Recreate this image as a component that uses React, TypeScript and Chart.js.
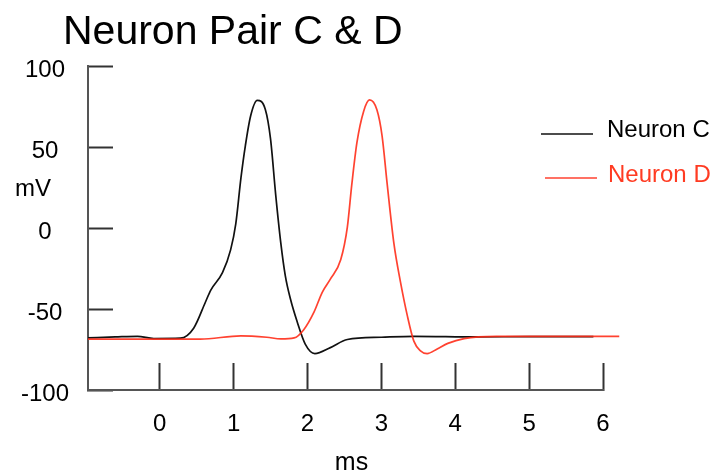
import React, { useEffect, useRef } from 'react';
import { Chart, registerables } from 'chart.js';

Chart.register(...registerables);

const TITLE = 'Neuron Pair C & D';
const X_TITLE = 'ms';
const Y_TITLE = 'mV';
const SERIES_NAMES = ['Neuron C', 'Neuron D'];
const SERIES_COLORS = ['#111111', 'rgba(255,45,25,0.9)'];
const LEGEND_TEXT_COLORS = ['#000000', '#ff3b22'];
const X_TICKS = [0, 1, 2, 3, 4, 5, 6];
const Y_TICKS = [-100, -50, 0, 50, 100];

// Neuron C (black)
const C_TIME = [-0.97, -0.6, -0.3, -0.08, 0.28, 0.46, 0.62, 0.69, 0.85, 0.96, 1.03, 1.1, 1.16, 1.23, 1.32, 1.43, 1.5, 1.57, 1.64, 1.7, 1.77, 1.86, 1.97, 2.1, 2.31, 2.54, 3.0, 3.44, 4.3, 5.0, 5.87];
const C_MV = [-67.8, -67.2, -66.8, -68.2, -68.0, -61.8, -45.6, -38.4, -27.5, -13.4, 2.7, 31.1, 51.1, 69.2, 79, 73.4, 55.3, 20.8, -9.4, -29.3, -43.8, -57.7, -71.6, -77.5, -73.8, -68.8, -67.4, -66.8, -67.2, -67, -67];

// Neuron D (red)
const D_TIME = [-0.97, 0.55, 1.1, 1.45, 1.64, 1.82, 1.95, 2.09, 2.2, 2.31, 2.45, 2.54, 2.6, 2.67, 2.76, 2.84, 2.94, 3.01, 3.08, 3.17, 3.26, 3.35, 3.44, 3.53, 3.62, 3.75, 3.9, 4.12, 4.56, 5.5, 6.22];
const D_MV = [-68.6, -68.6, -66.5, -67.4, -68.4, -67.8, -62.7, -51.7, -39.6, -31.5, -19.5, 0.7, 26.9, 53.0, 72.2, 79.3, 73.2, 57.1, 26.9, -9.4, -33.5, -53.7, -69.8, -75.8, -77.5, -74.8, -71.2, -68.2, -66.8, -66.8, -66.8];

const FONT = '"Liberation Sans", Arial, Helvetica, sans-serif';
const CANVAS_W = 705;
const CANVAS_H = 466;

const textPlugin = {
  id: 'customTexts',
  afterDraw(chart: any) {
    const ctx = chart.ctx as CanvasRenderingContext2D;
    const area = chart.chartArea;
    ctx.save();
    ctx.textAlign = 'left';
    ctx.textBaseline = 'alphabetic';
    ctx.fillStyle = '#000';
    ctx.font = `41px ${FONT}`;
    ctx.fillText(TITLE, 55, 36);

    ctx.font = `24px ${FONT}`;
    ctx.fillText(Y_TITLE, 7, 188);

    ctx.font = `25px ${FONT}`;
    ctx.textAlign = 'center';
    ctx.fillText(X_TITLE, (area.left + area.right) / 2 + 6, 462);

    // legend
    const rows = [
      { lineX: 533, lineY: 126, textX: 599, textY: 129 },
      { lineX: 537, lineY: 170, textX: 600, textY: 174 },
    ];
    chart.data.datasets.forEach((ds: any, i: number) => {
      const r = rows[i];
      ctx.beginPath();
      ctx.strokeStyle = ds.borderColor;
      ctx.lineWidth = 1.6;
      ctx.moveTo(r.lineX, r.lineY);
      ctx.lineTo(r.lineX + 52, r.lineY);
      ctx.stroke();
      ctx.font = `24px ${FONT}`;
      ctx.textAlign = 'left';
      ctx.fillStyle = LEGEND_TEXT_COLORS[i];
      ctx.fillText(ds.label, r.textX, r.textY);
    });
    ctx.restore();
  },
};

export default function App() {
  const ref = useRef<HTMLCanvasElement | null>(null);
  useEffect(() => {
    const prevOverflow = document.documentElement.style.overflow;
    document.documentElement.style.overflow = 'hidden';
    const canvas = ref.current;
    if (!canvas) return;
    const chart = new Chart(canvas, {
      type: 'line',
      data: {
        datasets: [
          {
            label: SERIES_NAMES[0],
            data: C_TIME.map((t, i) => ({ x: t, y: C_MV[i] })),
            borderColor: SERIES_COLORS[0],
            borderWidth: 1.7,
            pointRadius: 0,
            cubicInterpolationMode: 'monotone',
            fill: false,
            order: 2,
            clip: false as any,
          },
          {
            label: SERIES_NAMES[1],
            data: D_TIME.map((t, i) => ({ x: t, y: D_MV[i] })),
            borderColor: SERIES_COLORS[1],
            borderWidth: 1.7,
            pointRadius: 0,
            cubicInterpolationMode: 'monotone',
            fill: false,
            order: 1,
            clip: false as any,
          },
        ],
      },
      options: {
        animation: false,
        responsive: false,
        devicePixelRatio: 1,
        events: [],
        layout: { padding: { left: 0, right: CANVAS_W - 595, top: 51, bottom: 0 } },
        plugins: {
          legend: { display: false },
          title: { display: false },
          tooltip: { enabled: false },
        },
        scales: {
          x: {
            type: 'linear',
            min: -0.97,
            max: 6,
            afterBuildTicks: (s: any) => {
              s.ticks = X_TICKS.map((v) => ({ value: v }));
            },
            afterFit: (s: any) => {
              s.height = 84;
            },
            grid: {
              display: true,
              drawOnChartArea: false,
              drawTicks: true,
              tickLength: -27,
              tickWidth: 2,
              tickColor: '#333',
            },
            border: { display: true, color: '#555', width: 2 },
            ticks: {
              padding: 47,
              color: '#000',
              maxRotation: 0,
              autoSkip: false,
              font: { family: FONT, size: 24 },
            },
          },
          y: {
            type: 'linear',
            min: -100,
            max: 100,
            afterBuildTicks: (s: any) => {
              s.ticks = Y_TICKS.map((v) => ({ value: v }));
            },
            afterFit: (s: any) => {
              s.width = 80;
            },
            grid: {
              display: true,
              drawOnChartArea: false,
              drawTicks: true,
              tickLength: -25,
              tickWidth: 2,
              tickColor: '#333',
            },
            border: { display: true, color: '#555', width: 2 },
            ticks: {
              padding: 44,
              crossAlign: 'center',
              labelOffset: 4,
              color: '#000',
              autoSkip: false,
              font: { family: FONT, size: 24 },
            },
          },
        },
      } as any,
      plugins: [textPlugin],
    });
    return () => {
      chart.destroy();
      document.documentElement.style.overflow = prevOverflow;
    };
  }, []);
  return (
    <div>
      <canvas ref={ref} width={CANVAS_W} height={CANVAS_H} style={{ display: 'block', width: CANVAS_W, height: CANVAS_H }} />
    </div>
  );
}
